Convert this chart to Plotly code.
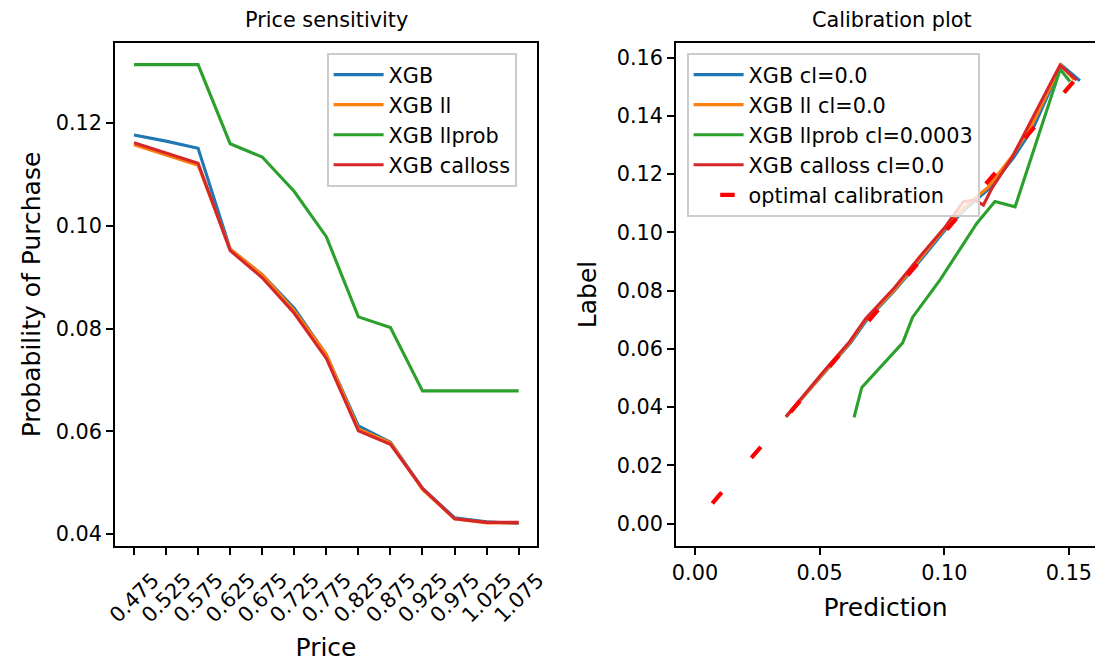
import plotly.graph_objects as go

# ---------------- data ----------------
prices = [0.475, 0.525, 0.575, 0.625, 0.675, 0.725, 0.775, 0.825, 0.875, 0.925, 0.975, 1.025, 1.075]
price_labels = ["0.475", "0.525", "0.575", "0.625", "0.675", "0.725", "0.775", "0.825", "0.875", "0.925", "0.975", "1.025", "1.075"]

ps_xgb = [0.1177, 0.1165, 0.1151, 0.0955, 0.0905, 0.0840, 0.0749, 0.0611, 0.0579, 0.0489, 0.0432, 0.0424, 0.0421]
ps_xgb_ll = [0.1158, 0.1138, 0.1118, 0.0955, 0.0905, 0.0835, 0.0750, 0.0605, 0.0578, 0.0487, 0.0430, 0.0422, 0.0422]
ps_xgb_llprob = [0.1314, 0.1314, 0.1314, 0.1160, 0.1134, 0.1067, 0.0979, 0.0823, 0.0802, 0.0679, 0.0679, 0.0679, 0.0679]
ps_xgb_calloss = [0.1162, 0.1142, 0.1122, 0.0952, 0.0899, 0.0830, 0.0742, 0.0601, 0.0575, 0.0489, 0.0430, 0.0423, 0.0423]

cal_xgb_pred = [0.0365, 0.0520, 0.0625, 0.0685, 0.0800, 0.0905, 0.1005, 0.1090, 0.1180, 0.1280, 0.1360, 0.1470, 0.1544]
cal_xgb_label = [0.0367, 0.0520, 0.0622, 0.0695, 0.0800, 0.0905, 0.1010, 0.1085, 0.1150, 0.1260, 0.1365, 0.1575, 0.1521]

cal_ll_pred = [0.0365, 0.0518, 0.0622, 0.0682, 0.0800, 0.0900, 0.1000, 0.1085, 0.1175, 0.1275, 0.1355, 0.1468, 0.1520]
cal_ll_label = [0.0367, 0.0521, 0.0623, 0.0698, 0.0803, 0.0907, 0.1012, 0.1090, 0.1155, 0.1265, 0.1375, 0.1575, 0.1525]

cal_llprob_pred = [0.0638, 0.0669, 0.0833, 0.0873, 0.0983, 0.1130, 0.1203, 0.1284, 0.1465, 0.1504]
cal_llprob_label = [0.0365, 0.0468, 0.0621, 0.0709, 0.0837, 0.1031, 0.1106, 0.1088, 0.1560, 0.1518]

cal_calloss_pred = [0.0365, 0.0515, 0.0620, 0.0685, 0.0800, 0.0895, 0.1000, 0.1076, 0.1123, 0.1157, 0.1190, 0.1270, 0.1464, 0.1531]
cal_calloss_label = [0.0367, 0.0522, 0.0625, 0.0705, 0.0810, 0.0910, 0.1015, 0.1106, 0.1111, 0.1094, 0.1150, 0.1255, 0.1574, 0.1523]

optimal = [0.0, 0.1575]

left_names = ["XGB", "XGB ll", "XGB llprob", "XGB calloss"]
right_names = ["XGB cl=0.0", "XGB ll cl=0.0", "XGB llprob cl=0.0003", "XGB calloss cl=0.0", "optimal calibration"]
colors = ["#1f77b4", "#ff7f0e", "#2ca02c", "#d62728"]

# ---------------- figure ----------------
FONT = "DejaVu Sans"
OFF = 0
W, H = 1095, 662
fig = go.Figure()

left_series = [ps_xgb, ps_xgb_ll, ps_xgb_llprob, ps_xgb_calloss]
for name, ys, c in zip(left_names, left_series, colors):
    fig.add_trace(go.Scatter(x=prices, y=ys, mode="lines", name=name,
                             line=dict(color=c, width=3.1),
                             xaxis="x", yaxis="y", legend="legend"))

right_series = [(cal_xgb_pred, cal_xgb_label), (cal_ll_pred, cal_ll_label),
                (cal_llprob_pred, cal_llprob_label), (cal_calloss_pred, cal_calloss_label)]
for name, (xs, ys), c in zip(right_names[:4], right_series, colors):
    fig.add_trace(go.Scatter(x=xs, y=ys, mode="lines", name=name,
                             line=dict(color=c, width=3.1),
                             xaxis="x2", yaxis="y2", legend="legend2"))
fig.add_trace(go.Scatter(x=optimal, y=optimal, mode="lines", name=right_names[4],
                         line=dict(color="#ff0000", width=4.2, dash="0px,26.6px,14.5px,19px"),
                         xaxis="x2", yaxis="y2", legend="legend2"))

axis_common = dict(showline=True, linecolor="black", linewidth=1.6, ticks="outside",
                   ticklen=7, tickwidth=1.6, tickcolor="black", showgrid=False,
                   zeroline=False, automargin=False, ticklabeloverflow="allow",
                   tickfont=dict(family=FONT, size=20.8, color="black"))

def px_x(p):
    return (p - OFF) / W

def px_y(p):
    return 1 - (p - OFF) / H

fig.update_layout(
    width=W, height=H,
    margin=dict(l=0, r=0, t=0, b=0),
    paper_bgcolor="white", plot_bgcolor="white",
    font=dict(family=FONT, color="black"),
    xaxis=dict(domain=[px_x(115), px_x(537)], range=[0.4454, 1.1036],
               tickvals=prices, ticktext=price_labels, tickangle=-45,
               ticklabelshift=19, ticklabelstandoff=5, mirror=True, anchor="y",
               title=dict(text="Price", font=dict(family=FONT, size=25), standoff=14),
               **axis_common),
    yaxis=dict(domain=[px_y(546), px_y(43)], range=[0.0377, 0.1356],
               tickvals=[0.04, 0.06, 0.08, 0.10, 0.12], tickformat=".2f",
               mirror=True, anchor="x",
               title=dict(text="Probability of Purchase", font=dict(family=FONT, size=25), standoff=8),
               **axis_common),
    xaxis2=dict(domain=[px_x(676), 1.0], range=[-0.00762, 0.16045],
                tickvals=[0.0, 0.05, 0.10, 0.15], tickformat=".2f",
                mirror=True, anchor="y2",
                title=dict(text="Prediction", font=dict(family=FONT, size=25), standoff=15),
                **axis_common),
    yaxis2=dict(domain=[px_y(546), px_y(43)], range=[-0.00766, 0.16505],
                tickvals=[0.0, 0.02, 0.04, 0.06, 0.08, 0.10, 0.12, 0.14, 0.16], tickformat=".2f",
                mirror=False, anchor="x2",
                title=dict(text="Label", font=dict(family=FONT, size=25), standoff=13),
                **axis_common),
    legend=dict(x=px_x(327), y=px_y(53), xanchor="left", yanchor="top",
                bgcolor="rgba(255,255,255,0.8)", bordercolor="#cccccc", borderwidth=1.6,
                font=dict(family=FONT, size=20.8), itemwidth=50),
    legend2=dict(x=px_x(687), y=px_y(53), xanchor="left", yanchor="top",
                 bgcolor="rgba(255,255,255,0.8)", bordercolor="#cccccc", borderwidth=1.6,
                 font=dict(family=FONT, size=20.8), itemwidth=50),
    showlegend=True,
    annotations=[
        dict(text="Price sensitivity", x=px_x(326), y=px_y(20), xref="paper", yref="paper",
             xanchor="center", yanchor="middle", showarrow=False,
             font=dict(family=FONT, size=20.8)),
        dict(text="Calibration plot", x=px_x(892), y=px_y(20), xref="paper", yref="paper",
             xanchor="center", yanchor="middle", showarrow=False,
             font=dict(family=FONT, size=20.8)),
    ],
)

# remove the default page margin so the figure fills the window exactly; hide the mode bar
fig.write_html("out.html", config={"displayModeBar": False},
               post_script="document.body.style.margin='0px';")
